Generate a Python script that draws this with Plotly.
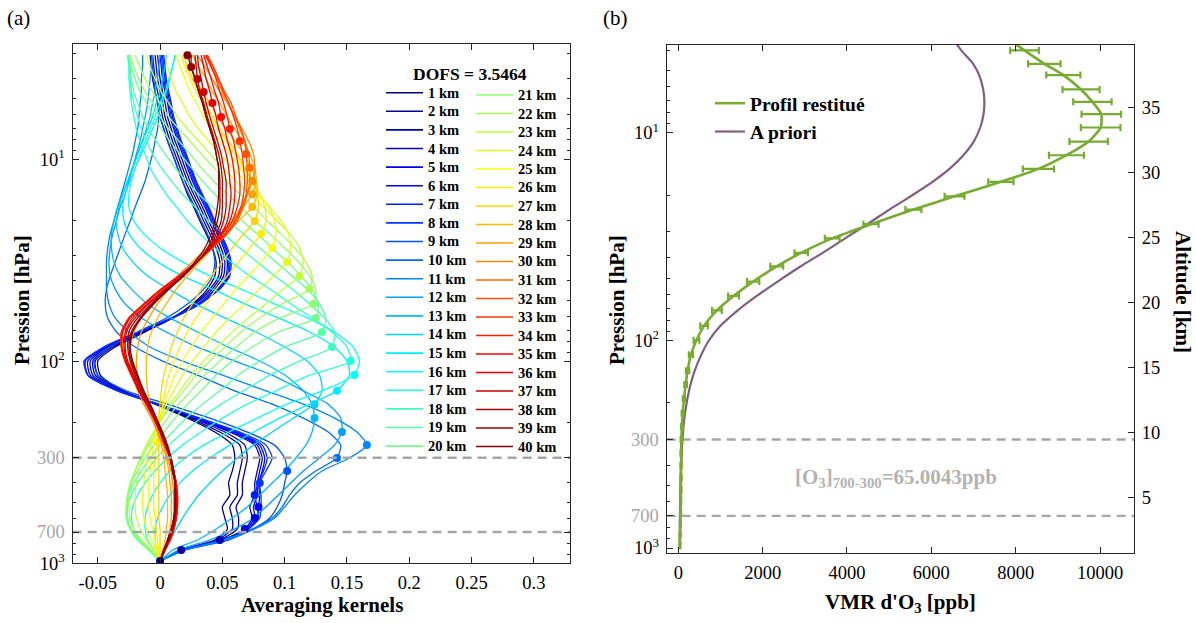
import plotly.graph_objects as go

# ---------------- data ----------------
# retrieval pressure levels (hPa), level 1 (bottom) .. level 40 (top)
pressure = [974, 859, 767, 676, 597, 526, 459, 400, 349, 301,
            260, 224, 191, 163, 140, 117, 99.7, 85.0, 71.6, 61.0,
            52.0, 43.9, 37.8, 32.2, 27.5, 23.4, 20.2, 17.2, 14.9, 12.8,
            11.0, 9.41, 8.12, 7.08, 6.17, 5.26, 4.64, 4.00, 3.49, 3.05]

level_names = [f"{k} km" for k in range(1, 41)]

# averaging kernel rows, one per retrieval level, values from bottom to top
ak_01 = [0, .017, .044, .054, .052, .050, .056, .055, .058, .060, .058, .044, .022, -.004, -.030, -.048, -.050, -.036, -.012, .010, .026, .038, .044, .045, .042, .037, .032, .027, .022, .018, .014, .010, .006, .003, .000, -.002, -.004, -.006, -.007, -.008]
ak_02 = [0, .017, .046, .058, .058, .056, .062, .062, .064, .066, .064, .048, .024, -.003, -.030, -.050, -.052, -.038, -.013, .010, .027, .040, .047, .048, .045, .040, .035, .030, .025, .020, .016, .012, .008, .005, .002, .000, -.002, -.004, -.005, -.006]
ak_03 = [0, .017, .048, .062, .063, .061, .066, .066, .068, .070, .068, .052, .026, -.002, -.030, -.052, -.054, -.040, -.014, .010, .028, .042, .049, .050, .047, .042, .037, .032, .027, .022, .018, .014, .010, .007, .004, .002, .000, -.002, -.003, -.004]
ak_04 = [0, .018, .050, .068, .074, .072, .076, .076, .078, .080, .076, .056, .028, -.002, -.032, -.054, -.056, -.042, -.015, .010, .030, .044, .051, .052, .049, .044, .039, .034, .029, .024, .020, .016, .012, .009, .006, .004, .002, .000, -.001, -.002]
ak_05 = [0, .018, .050, .069, .076, .075, .078, .078, .080, .082, .078, .058, .029, -.002, -.033, -.056, -.058, -.043, -.016, .010, .031, .046, .053, .054, .051, .046, .041, .036, .031, .026, .022, .018, .014, .011, .008, .006, .004, .002, .001, .000]
ak_06 = [0, .018, .050, .070, .078, .079, .080, .079, .082, .084, .080, .060, .030, -.002, -.034, -.058, -.060, -.044, -.017, .010, .032, .047, .055, .056, .053, .048, .043, .038, .033, .028, .024, .020, .016, .013, .010, .008, .006, .004, .003, .002]
ak_07 = [0, .018, .051, .071, .079, .078, .076, .079, .083, .086, .082, .062, .031, -.002, -.034, -.058, -.061, -.045, -.017, .010, .032, .048, .056, .057, .054, .049, .044, .039, .034, .029, .025, .021, .017, .014, .011, .009, .007, .005, .004, .003]
ak_08 = [0, .018, .051, .071, .080, .081, .081, .080, .085, .090, .085, .064, .032, -.001, -.034, -.058, -.060, -.045, -.018, .009, .031, .046, .054, .055, .052, .047, .042, .037, .032, .027, .023, .019, .015, .012, .009, .007, .005, .003, .002, .001]
ak_09 = [0, .020, .055, .075, .088, .094, .098, .100, .102, .100, .092, .070, .040, .006, -.027, -.050, -.053, -.040, -.018, .005, .022, .035, .042, .044, .042, .038, .033, .028, .023, .018, .014, .010, .006, .003, .000, -.002, -.004, -.005, -.006, -.007]
ak_10 = [0, .020, .050, .074, .090, .098, .104, .112, .125, .142, .145, .135, .115, .090, .060, .030, .002, -.020, -.035, -.042, -.044, -.043, -.040, -.036, -.032, -.028, -.024, -.020, -.016, -.012, -.009, -.006, -.004, -.002, -.001, .000, .001, .002, .002, .003]
ak_11 = [0, .020, .052, .076, .092, .100, .108, .118, .130, .152, .166, .158, .140, .115, .085, .050, .018, -.008, -.025, -.036, -.041, -.043, -.043, -.043, -.042, -.040, -.037, -.034, -.031, -.028, -.025, -.022, -.020, -.018, -.017, -.016, -.015, -.015, -.014, -.014]
ak_12 = [0, .015, .040, .060, .075, .085, .095, .105, .115, .128, .140, .146, .145, .135, .115, .090, .060, .030, .005, -.015, -.028, -.036, -.040, -.041, -.040, -.038, -.035, -.032, -.028, -.025, -.022, -.019, -.016, -.014, -.012, -.010, -.009, -.008, -.007, -.006]
ak_13 = [0, .010, .030, .045, .058, .070, .080, .090, .100, .109, .117, .122, .124, .122, .115, .100, .080, .055, .030, .008, -.010, -.023, -.032, -.037, -.039, -.039, -.037, -.034, -.030, -.026, -.022, -.018, -.014, -.011, -.008, -.006, -.004, -.002, -.001, .000]
ak_14 = [0, .003, .008, .013, .018, .024, .031, .040, .050, .062, .075, .090, .107, .124, .130, .128, .118, .100, .077, .052, .028, .007, -.010, -.022, -.030, -.034, -.035, -.033, -.030, -.026, -.022, -.018, -.014, -.010, -.006, -.003, .000, .002, .004, .005]
ak_15 = [0, -.002, -.004, -.004, -.002, .002, .008, .016, .026, .040, .056, .075, .096, .120, .142, .152, .150, .140, .120, .095, .068, .042, .018, -.002, -.016, -.025, -.029, -.030, -.028, -.024, -.020, -.015, -.010, -.006, -.002, .002, .005, .008, .010, .012]
ak_16 = [0, -.005, -.010, -.012, -.012, -.010, -.006, .000, .008, .020, .035, .055, .078, .102, .130, .156, .160, .155, .140, .118, .092, .065, .040, .018, .000, -.013, -.021, -.025, -.025, -.023, -.020, -.016, -.012, -.008, -.004, .000, .004, .007, .010, .012]
ak_17 = [0, -.008, -.016, -.021, -.023, -.022, -.018, -.012, -.004, .006, .018, .033, .050, .070, .093, .120, .153, .150, .138, .122, .105, .088, .072, .057, .044, .032, .022, .013, .005, -.002, -.008, -.012, -.016, -.019, -.021, -.023, -.024, -.025, -.025, -.026]
ak_18 = [0, -.009, -.018, -.024, -.026, -.026, -.023, -.018, -.011, -.003, .007, .019, .033, .049, .067, .088, .112, .138, .140, .132, .120, .106, .092, .078, .064, .051, .039, .028, .018, .009, .001, -.006, -.011, -.015, -.018, -.021, -.023, -.024, -.025, -.026]
ak_19 = [0, -.009, -.018, -.024, -.027, -.027, -.025, -.021, -.015, -.008, .000, .010, .021, .034, .048, .063, .080, .100, .130, .133, .128, .118, .106, .093, .080, .067, .054, .042, .031, .021, .012, .004, -.003, -.009, -.014, -.018, -.021, -.023, -.024, -.025]
ak_20 = [0, -.009, -.018, -.024, -.027, -.027, -.026, -.023, -.018, -.012, -.005, .003, .012, .022, .033, .045, .058, .074, .095, .125, .127, .122, .113, .102, .090, .078, .066, .055, .044, .034, .025, .016, .008, .001, -.005, -.011, -.016, -.020, -.023, -.025]
ak_21 = [0, -.008, -.017, -.023, -.026, -.027, -.026, -.024, -.020, -.015, -.009, -.002, .006, .015, .025, .036, .048, .061, .076, .096, .123, .125, .120, .111, .100, .088, .076, .065, .054, .043, .033, .024, .015, .007, .000, -.006, -.012, -.017, -.021, -.024]
ak_22 = [0, -.007, -.015, -.021, -.024, -.025, -.025, -.023, -.020, -.016, -.011, -.005, .002, .010, .019, .029, .040, .052, .065, .080, .098, .120, .122, .117, .108, .097, .086, .075, .064, .053, .043, .033, .024, .015, .007, .000, -.006, -.012, -.016, -.020]
ak_23 = [0, -.005, -.011, -.016, -.019, -.020, -.020, -.019, -.017, -.014, -.010, -.005, .001, .008, .016, .025, .035, .046, .058, .071, .085, .099, .112, .115, .112, .104, .094, .083, .072, .061, .050, .040, .031, .022, .014, .007, .001, -.004, -.008, -.011]
ak_24 = [0, -.003, -.007, -.011, -.013, -.014, -.014, -.013, -.012, -.010, -.007, -.004, .000, .005, .011, .018, .026, .035, .045, .056, .068, .080, .091, .102, .105, .103, .097, .088, .078, .068, .058, .048, .039, .031, .024, .018, .013, .009, .006, .004]
ak_25 = [0, -.002, -.004, -.006, -.008, -.009, -.009, -.009, -.008, -.007, -.005, -.003, .000, .003, .007, .012, .018, .025, .033, .042, .051, .061, .071, .081, .090, .093, .092, .087, .080, .072, .064, .056, .048, .041, .035, .029, .024, .020, .016, .013]
ak_26 = [0, -.001, -.002, -.003, -.004, -.005, -.005, -.005, -.005, -.004, -.003, -.002, .000, .002, .004, .007, .011, .016, .022, .029, .037, .045, .054, .063, .072, .081, .085, .084, .080, .074, .067, .060, .053, .046, .040, .034, .029, .024, .020, .017]
ak_27 = [0, .000, .000, .000, -.001, -.001, -.001, -.001, -.001, -.001, -.001, -.001, -.001, .000, .001, .003, .006, .009, .014, .019, .026, .033, .041, .050, .058, .067, .076, .079, .078, .074, .068, .062, .055, .048, .042, .036, .031, .026, .022, .019]
ak_28 = [0, .002, .004, .005, .006, .006, .006, .005, .004, .003, .001, -.002, -.005, -.008, -.010, -.011, -.011, -.010, -.007, -.002, .005, .013, .022, .032, .042, .052, .063, .074, .078, .077, .073, .067, .060, .053, .046, .040, .034, .029, .025, .022]
ak_29 = [0, .003, .006, .008, .009, .009, .009, .008, .007, .005, .002, -.002, -.006, -.011, -.015, -.018, -.019, -.018, -.015, -.009, -.002, .007, .017, .028, .039, .050, .059, .067, .074, .077, .076, .072, .066, .060, .054, .048, .042, .037, .031, .026]
ak_30 = [0, .004, .008, .010, .011, .011, .011, .010, .009, .006, .003, -.002, -.007, -.013, -.018, -.022, -.024, -.024, -.021, -.015, -.007, .003, .014, .026, .038, .049, .058, .065, .070, .074, .076, .075, .071, .066, .060, .054, .048, .042, .036, .030]
ak_31 = [0, .004, .008, .011, .013, .013, .013, .012, .011, .008, .004, .000, -.005, -.011, -.017, -.022, -.027, -.030, -.030, -.024, -.013, .001, .015, .029, .042, .054, .062, .067, .070, .072, .072, .071, .068, .064, .060, .055, .050, .046, .041, .036]
ak_32 = [0, .004, .008, .011, .013, .013, .013, .012, .011, .008, .004, .000, -.005, -.011, -.017, -.023, -.028, -.031, -.031, -.025, -.013, .001, .015, .029, .042, .054, .061, .066, .069, .070, .070, .069, .068, .065, .061, .057, .052, .047, .042, .037]
ak_33 = [0, .004, .008, .011, .013, .014, .013, .012, .011, .008, .004, .000, -.005, -.011, -.017, -.023, -.028, -.031, -.031, -.025, -.013, .001, .015, .029, .042, .053, .060, .065, .067, .068, .067, .066, .064, .062, .059, .055, .051, .047, .043, .038]
ak_34 = [0, .004, .008, .011, .013, .014, .014, .013, .011, .008, .004, .000, -.005, -.011, -.017, -.023, -.028, -.031, -.031, -.025, -.013, .001, .015, .029, .041, .052, .058, .062, .064, .064, .063, .061, .059, .056, .054, .051, .048, .045, .041, .037]
ak_35 = [0, .004, .008, .011, .013, .014, .014, .013, .011, .008, .004, .000, -.005, -.011, -.017, -.023, -.028, -.031, -.030, -.024, -.012, .002, .016, .029, .041, .050, .056, .059, .060, .060, .059, .057, .054, .052, .049, .047, .044, .041, .038, .035]
ak_36 = [0, .004, .007, .010, .012, .013, .013, .012, .011, .008, .004, .000, -.005, -.011, -.017, -.022, -.027, -.029, -.028, -.022, -.010, .004, .017, .030, .040, .049, .054, .056, .057, .056, .055, .053, .050, .047, .045, .042, .040, .037, .035, .033]
ak_37 = [0, .004, .007, .010, .012, .013, .013, .012, .010, .008, .004, .000, -.005, -.010, -.016, -.021, -.026, -.028, -.027, -.020, -.009, .005, .018, .030, .040, .047, .051, .053, .053, .053, .051, .049, .046, .043, .040, .037, .035, .033, .031, .030]
ak_38 = [0, .003, .007, .010, .012, .012, .012, .012, .010, .008, .005, .001, -.004, -.009, -.015, -.020, -.024, -.026, -.025, -.018, -.007, .006, .019, .030, .039, .045, .049, .050, .050, .050, .049, .047, .044, .041, .038, .035, .032, .030, .029, .028]
ak_39 = [0, .003, .006, .009, .011, .012, .012, .012, .010, .008, .005, .001, -.003, -.008, -.014, -.019, -.023, -.025, -.023, -.016, -.006, .007, .019, .030, .038, .043, .046, .048, .048, .048, .047, .045, .043, .040, .037, .034, .031, .028, .025, .025]
ak_40 = [0, .003, .006, .009, .011, .012, .012, .012, .011, .009, .006, .002, -.003, -.008, -.013, -.018, -.022, -.024, -.022, -.015, -.005, .007, .018, .028, .036, .041, .044, .046, .047, .047, .047, .045, .043, .040, .037, .034, .031, .028, .025, .022]

kernels = [ak_01, ak_02, ak_03, ak_04, ak_05, ak_06, ak_07, ak_08, ak_09, ak_10,
           ak_11, ak_12, ak_13, ak_14, ak_15, ak_16, ak_17, ak_18, ak_19, ak_20,
           ak_21, ak_22, ak_23, ak_24, ak_25, ak_26, ak_27, ak_28, ak_29, ak_30,
           ak_31, ak_32, ak_33, ak_34, ak_35, ak_36, ak_37, ak_38, ak_39, ak_40]

dofs_text = "DOFS = 3.5464"

# retrieved ozone profile (ppb), its uncertainty and the a priori, bottom to top
o3_retrieved = [40, 45, 50, 55, 58, 62, 64, 66, 68, 72,
                85, 105, 135, 175, 220, 300, 430, 610, 915, 1310,
                1775, 2335, 2915, 3650, 4570, 5575, 6550, 7650, 8540, 9205,
                9730, 10015, 10030, 9820, 9550, 9130, 8680, 8210, 7800, 7400]
o3_error = [10, 10, 11, 12, 12, 13, 14, 15, 16, 18,
            20, 24, 28, 32, 40, 50, 68, 90, 115, 130,
            145, 152, 160, 175, 180, 190, 235, 300, 370, 415,
            455, 470, 468, 455, 440, 405, 385, 340, 320, 300]
o3_apriori = [30, 33, 35, 39, 43, 48, 56, 66, 80, 98,
              123, 160, 216, 290, 387, 546, 730, 1000, 1410, 1860,
              2355, 2905, 3425, 3955, 4485, 5005, 5505, 6030, 6430, 6760,
              7005, 7160, 7238, 7258, 7230, 7135, 6990, 6710, 6500, 6300]
column_text = "[O<sub>3</sub>]<sub>700-300</sub>=65.0043ppb"

# pressure limits of the tropospheric column
layer_limits = [300, 700]

# axis ticks
p_ticks = [10, 100, 300, 700, 1000]
p_ticktext = ["10<sup>1</sup>", "10<sup>2</sup>",
              "<span style='color:#a6a6a6'>300</span>",
              "<span style='color:#a6a6a6'>700</span>", "10<sup>3</sup>"]
p_minor = [m * 10 ** e for e in (0, 1, 2) for m in range(2, 10)
           if m * 10 ** e not in (300, 700)]
ak_ticks = [-0.05, 0, 0.05, 0.1, 0.15, 0.2, 0.25, 0.3]
ak_ticktext = ["-0.05", "0", "0.05", "0.1", "0.15", "0.2", "0.25", "0.3"]
vmr_ticks = [0, 2000, 4000, 6000, 8000, 10000]
vmr_ticktext = ["0", "2000", "4000", "6000", "8000", "10000"]
alt_ticks = [5, 10, 15, 20, 25, 30, 35]

# ---------------- styling ----------------
SERIF = "Liberation Serif, Times New Roman, serif"
AXC = "#262626"
GREY = "#a6a6a6"
GREEN = "#77ac30"
PURPLE = "#7e5f7f"

W, H = 1196, 623
AK_RANGE = [-0.0702, 0.329]
VMR_RANGE = [-275, 10806]


def jet(t):
    def c(v):
        return max(0.0, min(1.0, v))
    r = c(1.5 - abs(4 * t - 3))
    g = c(1.5 - abs(4 * t - 2))
    b = c(1.5 - abs(4 * t - 1))
    return f"rgb({int(r * 255)},{int(g * 255)},{int(b * 255)})"


def px_x(v):
    return v / W


def px_y(v):
    return 1 - v / H


n = len(kernels)
colors = [jet(i / (n - 1)) for i in range(n)]

fig = go.Figure()

for i, row in enumerate(kernels):
    fig.add_trace(go.Scatter(
        x=row, y=pressure, mode="lines", name=level_names[i],
        line=dict(color=colors[i], width=1.3, shape="spline", smoothing=0.6),
        showlegend=False, xaxis="x", yaxis="y", hoverinfo="skip"))

# each kernel's value at its own level
fig.add_trace(go.Scatter(
    x=[kernels[i][i] for i in range(n)], y=pressure, mode="markers",
    marker=dict(color=colors, size=8, line=dict(width=0)),
    showlegend=False, xaxis="x", yaxis="y", hoverinfo="skip"))

for p in layer_limits:
    fig.add_trace(go.Scatter(
        x=AK_RANGE, y=[p, p], mode="lines",
        line=dict(color=GREY, width=2.4, dash="9px,6px"),
        showlegend=False, xaxis="x", yaxis="y", hoverinfo="skip"))
    fig.add_trace(go.Scatter(
        x=VMR_RANGE, y=[p, p], mode="lines",
        line=dict(color=GREY, width=2.4, dash="9px,6px"),
        showlegend=False, xaxis="x2", yaxis="y2", hoverinfo="skip"))

fig.add_trace(go.Scatter(
    x=o3_apriori, y=pressure, mode="lines", name="A priori", legendrank=2,
    line=dict(color=PURPLE, width=2.2, shape="spline", smoothing=0.8),
    xaxis="x2", yaxis="y2", hoverinfo="skip"))
fig.add_trace(go.Scatter(
    x=o3_retrieved, y=pressure, mode="lines", name="Profil restitué", legendrank=1,
    line=dict(color=GREEN, width=2.6, shape="spline", smoothing=0.6),
    error_x=dict(type="data", array=o3_error, color=GREEN, thickness=2.2, width=3.5),
    xaxis="x2", yaxis="y2", hoverinfo="skip"))

# invisible trace that carries the altitude axis
fig.add_trace(go.Scatter(x=[None], y=[None], xaxis="x2", yaxis="y3",
                         showlegend=False, hoverinfo="skip"))

tickfont = dict(family=SERIF, size=18.5, color="black")
common = dict(showline=True, linecolor=AXC, linewidth=1.3, ticks="inside",
              tickcolor=AXC, tickwidth=1.2, ticklen=6, showgrid=False,
              zeroline=False, tickfont=tickfont, automargin=False)
minor = dict(tickmode="array", tickvals=p_minor, ticks="inside",
             ticklen=3, tickcolor=AXC, tickwidth=1)

fig.update_layout(
    width=W, height=H,
    margin=dict(l=0, r=0, t=0, b=0, autoexpand=False),
    paper_bgcolor="white", plot_bgcolor="white", showlegend=True,
    xaxis=dict(domain=[px_x(72.6), px_x(570)], range=AK_RANGE, anchor="y",
               tickmode="array", tickvals=ak_ticks, ticktext=ak_ticktext,
               mirror="ticks", ticklabelstandoff=2, **common),
    yaxis=dict(domain=[px_y(563.3), px_y(44)], type="log", range=[3.0, 0.4292],
               anchor="x", tickmode="array", tickvals=p_ticks, ticktext=p_ticktext,
               mirror="ticks", ticklabelstandoff=3, minor=minor, **common),
    xaxis2=dict(domain=[px_x(666.7), px_x(1134)], range=VMR_RANGE, anchor="y2",
                tickmode="array", tickvals=vmr_ticks, ticktext=vmr_ticktext,
                mirror="ticks", ticklabelstandoff=2, **common),
    yaxis2=dict(domain=[px_y(553.3), px_y(45)], type="log", range=[3.0255, 0.576],
                anchor="x2", tickmode="array", tickvals=p_ticks, ticktext=p_ticktext,
                ticklabelstandoff=3, minor=minor, **common),
    yaxis3=dict(overlaying="y2", side="right", anchor="x2", range=[0.7, 39.8],
                tickmode="array", tickvals=alt_ticks, ticklabelstandoff=3, **common),
    legend=dict(x=px_x(710), y=px_y(84), xanchor="left", yanchor="top",
                bgcolor="rgba(0,0,0,0)", borderwidth=0,
                font=dict(family=SERIF, size=19.5, color="black", weight="bold"),
                itemwidth=30),
)

# kernel legend: two columns of 20 entries
LEG_COLS = [dict(x0=386, x1=423, y0=92.7, dy=18.6),
            dict(x0=476, x1=513, y0=95.0, dy=18.5)]
for i in range(n):
    col = LEG_COLS[i // 20]
    yy = col["y0"] + (i % 20) * col["dy"]
    fig.add_shape(type="line", xref="paper", yref="paper",
                  x0=px_x(col["x0"]), x1=px_x(col["x1"]),
                  y0=px_y(yy), y1=px_y(yy),
                  line=dict(color=colors[i], width=1.6))
    fig.add_annotation(text=level_names[i], x=px_x(col["x1"] + 3), y=px_y(yy),
                       xref="paper", yref="paper", showarrow=False,
                       xanchor="left", yanchor="middle",
                       font=dict(family=SERIF, size=14.5, color="black",
                                 weight="bold"))

ann = [
    dict(text="(a)", x=18, y=18, size=21, bold=False),
    dict(text="(b)", x=615, y=18, size=21, bold=False),
    dict(text=dofs_text, x=470, y=74, size=17.5, bold=True),
    dict(text="Averaging kernels", x=322, y=605, size=21, bold=True),
    dict(text="VMR d'O<sub>3</sub> [ppb]", x=900, y=603, size=21, bold=True),
    dict(text="Pression [hPa]", x=22, y=300, size=21, bold=True, angle=-90),
    dict(text="Pression [hPa]", x=617, y=300, size=21, bold=True, angle=-90),
    dict(text="Altitude [km]", x=1183, y=292, size=21, bold=True, angle=90),
]
for a in ann:
    fig.add_annotation(
        text=a["text"], x=px_x(a["x"]), y=px_y(a["y"]), xref="paper", yref="paper",
        showarrow=False, xanchor="center", yanchor="middle",
        textangle=a.get("angle", 0),
        font=dict(family=SERIF, size=a["size"], color="black",
                  weight="bold" if a["bold"] else "normal"))

fig.add_annotation(text=column_text, x=px_x(896), y=px_y(478), xref="paper",
                   yref="paper", showarrow=False, xanchor="center", yanchor="middle",
                   font=dict(family=SERIF, size=21, color="#b3b3b3", weight="bold"))

fig.write_html("out.html")
